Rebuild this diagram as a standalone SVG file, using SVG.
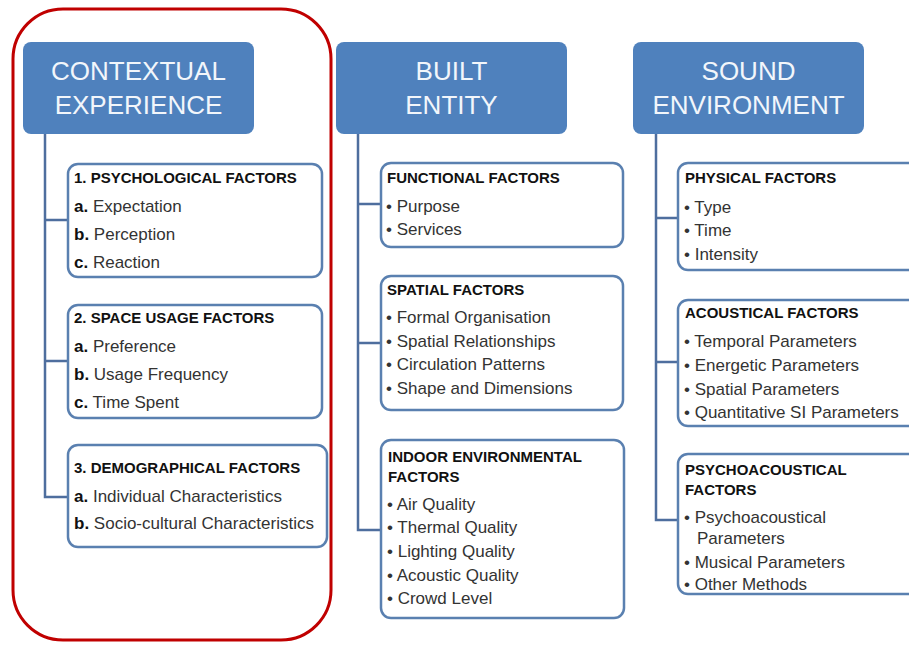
<svg xmlns="http://www.w3.org/2000/svg" width="909" height="645" viewBox="0 0 909 645">
<style>
.hdr{fill:#4f81bd;}
.ht{font-family:"Liberation Sans",Arial,sans-serif;font-size:26px;fill:#f2f6fb;text-anchor:middle;}
.box{fill:#ffffff;stroke:#5a80b0;stroke-width:2.5;}
.tt{font-family:"Liberation Sans",Arial,sans-serif;font-size:15px;font-weight:bold;fill:#111;}
.it{font-family:"Liberation Sans",Arial,sans-serif;font-size:17px;fill:#333;}
.b{font-weight:bold;fill:#111;}
.con{fill:none;stroke:#4e6e9e;stroke-width:2.5;}
</style>
<rect width="909" height="645" fill="#ffffff"/>
<rect id="highlight" x="13" y="9" width="318" height="631" rx="50" fill="none" stroke="#c00000" stroke-width="3"/>
<g id="connectors">
<path class="con" d="M45 134 V497 H68 M45 220 H68 M45 361 H68"/>
<path class="con" d="M358 134 V530 H381 M358 204 H381 M358 343 H381"/>
<path class="con" d="M656 134 V520 H678 M656 218 H678 M656 362 H678"/>
</g>
<g id="contextual">
<rect class="hdr" x="23" y="42" width="231" height="92" rx="8"/>
<text class="ht" x="138.5" y="80">CONTEXTUAL</text>
<text class="ht" x="138.5" y="114">EXPERIENCE</text>
</g>
<g id="built">
<rect class="hdr" x="336" y="42" width="231" height="92" rx="8"/>
<text class="ht" x="451.5" y="80">BUILT</text>
<text class="ht" x="451.5" y="114">ENTITY</text>
</g>
<g id="sound">
<rect class="hdr" x="633" y="42" width="231" height="92" rx="8"/>
<text class="ht" x="748.5" y="80">SOUND</text>
<text class="ht" x="748.5" y="114">ENVIRONMENT</text>
</g>
<g id="psychological">
<rect class="box" x="68" y="164" width="254" height="113" rx="10"/>
<text class="tt" x="74" y="183">1. PSYCHOLOGICAL FACTORS</text>
<text class="it" x="74" y="212"><tspan class="b">a.</tspan> Expectation</text>
<text class="it" x="74" y="240"><tspan class="b">b.</tspan> Perception</text>
<text class="it" x="74" y="268"><tspan class="b">c.</tspan> Reaction</text>
</g>
<g id="space-usage">
<rect class="box" x="68" y="305" width="254" height="113" rx="10"/>
<text class="tt" x="74" y="323">2. SPACE USAGE FACTORS</text>
<text class="it" x="74" y="352"><tspan class="b">a.</tspan> Preference</text>
<text class="it" x="74" y="380"><tspan class="b">b.</tspan> Usage Frequency</text>
<text class="it" x="74" y="408"><tspan class="b">c.</tspan> Time Spent</text>
</g>
<g id="demographical">
<rect class="box" x="68" y="445" width="259" height="102" rx="10"/>
<text class="tt" x="74" y="473">3. DEMOGRAPHICAL FACTORS</text>
<text class="it" x="74" y="502"><tspan class="b">a.</tspan> Individual Characteristics</text>
<text class="it" x="74" y="529"><tspan class="b">b.</tspan> Socio-cultural Characteristics</text>
</g>
<g id="functional">
<rect class="box" x="381" y="163" width="242" height="84" rx="10"/>
<text class="tt" x="387" y="183">FUNCTIONAL FACTORS</text>
<text class="it" x="386" y="212">• Purpose</text>
<text class="it" x="386" y="235">• Services</text>
</g>
<g id="spatial">
<rect class="box" x="381" y="276" width="242" height="134" rx="10"/>
<text class="tt" x="387" y="295">SPATIAL FACTORS</text>
<text class="it" x="386" y="323">• Formal Organisation</text>
<text class="it" x="386" y="347">• Spatial Relationships</text>
<text class="it" x="386" y="370">• Circulation Patterns</text>
<text class="it" x="386" y="394">• Shape and Dimensions</text>
</g>
<g id="indoor">
<rect class="box" x="381" y="440" width="243" height="178" rx="10"/>
<text class="tt" x="388" y="462">INDOOR ENVIRONMENTAL</text>
<text class="tt" x="388" y="482">FACTORS</text>
<text class="it" x="387" y="510">• Air Quality</text>
<text class="it" x="387" y="533">• Thermal Quality</text>
<text class="it" x="387" y="557">• Lighting Quality</text>
<text class="it" x="387" y="581">• Acoustic Quality</text>
<text class="it" x="387" y="604">• Crowd Level</text>
</g>
<g id="physical">
<rect class="box" x="678" y="163" width="250" height="107" rx="10"/>
<text class="tt" x="685" y="183">PHYSICAL FACTORS</text>
<text class="it" x="684" y="213">• Type</text>
<text class="it" x="684" y="236">• Time</text>
<text class="it" x="684" y="260">• Intensity</text>
</g>
<g id="acoustical">
<rect class="box" x="678" y="300" width="250" height="126" rx="10"/>
<text class="tt" x="685" y="318">ACOUSTICAL FACTORS</text>
<text class="it" x="684" y="347">• Temporal Parameters</text>
<text class="it" x="684" y="371">• Energetic Parameters</text>
<text class="it" x="684" y="395">• Spatial Parameters</text>
<text class="it" x="684" y="418">• Quantitative SI Parameters</text>
</g>
<g id="psychoacoustical">
<rect class="box" x="678" y="454" width="250" height="140" rx="10"/>
<text class="tt" x="685" y="475">PSYCHOACOUSTICAL</text>
<text class="tt" x="685" y="495">FACTORS</text>
<text class="it" x="684" y="523">• Psychoacoustical</text>
<text class="it" x="697" y="544">Parameters</text>
<text class="it" x="684" y="568">• Musical Parameters</text>
<text class="it" x="684" y="590">• Other Methods</text>
</g>
</svg>
